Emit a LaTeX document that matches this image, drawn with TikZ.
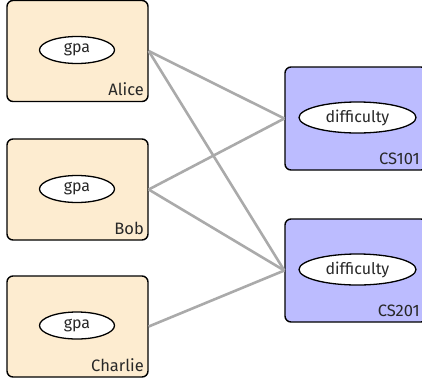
\documentclass[tikz,border=0pt]{standalone}
\usepackage{fontspec}
\setmainfont{Fira Sans}
\usetikzlibrary{shapes.geometric}
\definecolor{studentfill}{RGB}{253,236,208}
\definecolor{coursefill}{RGB}{188,188,255}
\definecolor{linkgray}{RGB}{170,170,170}
\definecolor{ink}{RGB}{40,40,40}
\begin{document}
\begin{tikzpicture}[x=1pt,y=-1pt,
  student/.style={draw=black,line width=1.4pt,rounded corners=6pt,fill=studentfill,minimum width=141pt,minimum height=101pt},
  course/.style={draw=black,line width=1.4pt,rounded corners=6pt,fill=coursefill,minimum width=142pt,minimum height=103pt},
  attr/.style={ellipse,draw=black,line width=1.3pt,fill=white,inner sep=0pt,text=ink,font=\fontsize{16}{18}\selectfont},
  tag/.style={anchor=base east,inner sep=0pt,text=ink,font=\fontsize{16.5}{18}\selectfont},
  link/.style={draw=linkgray,line width=2.6pt}]
\useasboundingbox (0,0) rectangle (422,383);
% students
\node[student] (alice) at (77.5,51) {};
\node[student] (bob) at (77.5,189.5) {};
\node[student] (charlie) at (77.5,326.5) {};
\node[attr,minimum width=75pt,minimum height=27pt] (ga) at (77,50) {gpa};
\node[attr,minimum width=75pt,minimum height=27pt] (gb) at (77,189) {gpa};
\node[attr,minimum width=75pt,minimum height=27pt] (gc) at (77,325.5) {gpa};
\node[tag] (la) at (144,95) {Alice};
\node[tag] (lb) at (144,234) {Bob};
\node[tag] (lc) at (144,371) {Charlie};
% courses
\node[course] (cs1) at (356,118.5) {};
\node[course] (cs2) at (356,270.5) {};
\node[attr,minimum width=117pt,minimum height=31pt] (d1) at (357.5,117.5) {difficulty};
\node[attr,minimum width=117pt,minimum height=31pt] (d2) at (357.5,269.5) {difficulty};
\node[tag] (l1) at (420,164) {CS101};
\node[tag] (l2) at (420,316) {CS201};
% enrolments
\draw[link] (alice.east) -- (cs1.west);
\draw[link] (alice.east) -- (cs2.west);
\draw[link] (bob.east) -- (cs1.west);
\draw[link] (bob.east) -- (cs2.west);
\draw[link] (charlie.east) -- (cs2.west);
\end{tikzpicture}
\end{document}
